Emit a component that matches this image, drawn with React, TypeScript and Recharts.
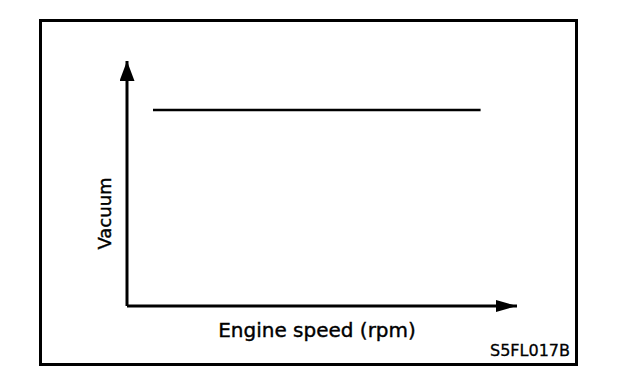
import React from "react";
import { LineChart, Line, XAxis, YAxis, Label } from "recharts";

// engine speed (rpm) at the two ends of the flat vacuum line
const engineSpeed = [500, 6800];
const vacuum = [80, 80];
const xDomain = [0, 7500];
const yDomain = [0, 100];

const xTitle = "Engine speed (rpm)";
const yTitle = "Vacuum";
const figCode = "S5FL017B";

const data = engineSpeed.map((rpm, i) => ({ rpm, vacuum: vacuum[i] }));

const FONT = "'DejaVu Sans', sans-serif";

function YTitle({ viewBox }: any) {
    const cx = viewBox.x + 37;
    const cy = viewBox.y + viewBox.height / 2 + 30;
    return (
        <text
            x={cx}
            y={cy}
            transform={`rotate(-90 ${cx} ${cy})`}
            textAnchor="middle"
            dominantBaseline="central"
            fontFamily={FONT}
            fontSize={18}
            fill="#000"
            stroke="#000"
            strokeWidth={0.4}
        >
            {yTitle}
        </text>
    );
}

function XTitle({ viewBox }: any) {
    return (
        <text
            x={viewBox.x + viewBox.width / 2 - 5}
            y={viewBox.y + 31}
            textAnchor="middle"
            fontFamily={FONT}
            fontSize={20}
            fill="#000"
            stroke="#000"
            strokeWidth={0.4}
        >
            {xTitle}
        </text>
    );
}

function CodeLabel({ viewBox }: any) {
    return (
        <text
            x={viewBox.x + viewBox.width + 53}
            y={viewBox.y + 50}
            textAnchor="end"
            fontFamily={FONT}
            fontSize={16}
            fill="#000"
            stroke="#000"
            strokeWidth={0.3}
        >
            {figCode}
        </text>
    );
}

export default function App() {
    return (
        <div style={{ position: "absolute", left: 0, top: 0, width: 624, height: 384, background: "#fff" }}>
            <svg width={0} height={0} style={{ position: "absolute" }}>
                <defs>
                    <marker id="arrowY" markerUnits="userSpaceOnUse" markerWidth={20} markerHeight={15}
                        refX={20} refY={7.5} orient="auto-start-reverse">
                        <path d="M0,0 L20,7.5 L0,15 Z" fill="#000" />
                    </marker>
                    <marker id="arrowX" markerUnits="userSpaceOnUse" markerWidth={21} markerHeight={12}
                        refX={21} refY={6} orient="auto">
                        <path d="M0,0 L21,6 L0,12 Z" fill="#000" />
                    </marker>
                </defs>
            </svg>
            <div
                style={{
                    position: "absolute",
                    left: 39,
                    top: 19,
                    width: 539,
                    height: 347,
                    border: "3px solid #000",
                    boxSizing: "border-box",
                }}
            />
            <LineChart
                width={624}
                height={384}
                data={data}
                margin={{ top: 61, right: 107, left: 67, bottom: 48 }}
                style={{ position: "absolute", left: 0, top: 0 }}
            >
                <XAxis
                    dataKey="rpm"
                    type="number"
                    domain={xDomain}
                    height={30}
                    tick={false}
                    tickLine={false}
                    axisLine={{ stroke: "#000", strokeWidth: 3, markerEnd: "url(#arrowX)" }}
                >
                    <Label content={XTitle} />
                    <Label content={CodeLabel} />
                </XAxis>
                <YAxis
                    type="number"
                    domain={yDomain}
                    width={60}
                    tick={false}
                    tickLine={false}
                    axisLine={{ stroke: "#000", strokeWidth: 3, markerStart: "url(#arrowY)" }}
                >
                    <Label content={YTitle} />
                </YAxis>
                <Line
                    dataKey="vacuum"
                    type="linear"
                    stroke="#000"
                    strokeWidth={2.5}
                    dot={false}
                    activeDot={false}
                    isAnimationActive={false}
                />
            </LineChart>
        </div>
    );
}
